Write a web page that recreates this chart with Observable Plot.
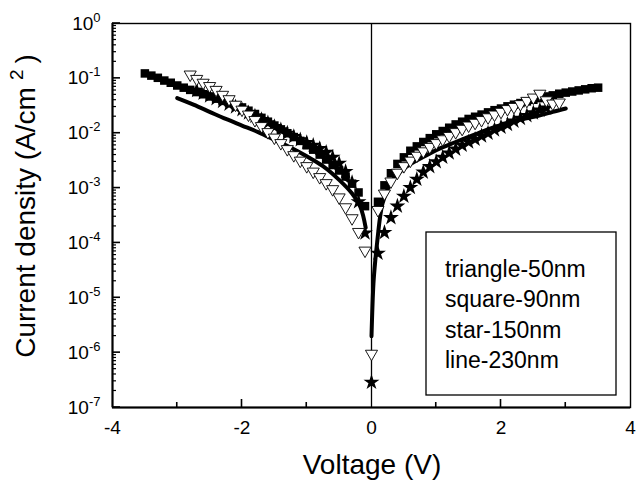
<!DOCTYPE html>
<html>
<head>
<meta charset="utf-8">
<script src="https://cdn.jsdelivr.net/npm/d3@7"></script>
<script src="https://cdn.jsdelivr.net/npm/@observablehq/plot@0.6"></script>
<style>
  html, body { margin: 0; padding: 0; background: #fff; }
  #chart { width: 636px; height: 481px; }
</style>
</head>
<body>
<div id="chart"></div>
<script>
// ---- data (voltage in V, current density as log10 of A/cm^2) ----
const squareV = [-3.5,-3.4,-3.3,-3.2,-3.1,-3.0,-2.9,-2.8,-2.7,-2.6,-2.5,-2.4,-2.3,-2.2,-2.1,-2.0,-1.9,-1.8,-1.7,-1.6,-1.5,-1.4,-1.3,-1.2,-1.1,-1.0,-0.9,-0.8,-0.7,-0.6,-0.5,-0.4,-0.3,-0.2,-0.1,
  0.1,0.2,0.3,0.4,0.5,0.6,0.7,0.8,0.9,1.0,1.1,1.2,1.3,1.4,1.5,1.6,1.7,1.8,1.9,2.0,2.1,2.2,2.3,2.4,2.5,2.6,2.7,2.8,2.9,3.0,3.1,3.2,3.3,3.4,3.5];
const squareLogJ = [-0.91,-0.95,-0.99,-1.04,-1.08,-1.13,-1.17,-1.21,-1.25,-1.29,-1.33,-1.37,-1.41,-1.45,-1.49,-1.53,-1.59,-1.65,-1.72,-1.79,-1.86,-1.93,-2.00,-2.07,-2.14,-2.22,-2.30,-2.39,-2.48,-2.58,-2.68,-2.79,-2.92,-3.08,-3.33,
  -3.25,-2.95,-2.73,-2.56,-2.44,-2.32,-2.24,-2.16,-2.09,-2.02,-1.96,-1.90,-1.84,-1.79,-1.74,-1.70,-1.66,-1.62,-1.58,-1.55,-1.51,-1.48,-1.45,-1.42,-1.39,-1.36,-1.33,-1.31,-1.28,-1.26,-1.24,-1.22,-1.20,-1.18,-1.17];

const triangleV = [-2.8,-2.7,-2.6,-2.5,-2.4,-2.3,-2.2,-2.1,-2.0,-1.9,-1.8,-1.7,-1.6,-1.5,-1.4,-1.3,-1.2,-1.1,-1.0,-0.9,-0.8,-0.7,-0.6,-0.5,-0.4,-0.3,-0.2,-0.1,
  0.0,
  0.1,0.2,0.3,0.4,0.5,0.6,0.7,0.8,0.9,1.0,1.1,1.2,1.3,1.4,1.5,1.6,1.7,1.8,1.9,2.0,2.1,2.2,2.3,2.4,2.5,2.6,2.7,2.8,2.9];
const triangleLogJ = [-0.93,-1.01,-1.08,-1.14,-1.21,-1.30,-1.38,-1.48,-1.57,-1.66,-1.76,-1.87,-1.98,-2.08,-2.18,-2.29,-2.40,-2.50,-2.60,-2.70,-2.80,-2.91,-3.02,-3.17,-3.35,-3.55,-3.80,-4.14,
  -6.02,
  -3.40,-3.10,-2.88,-2.72,-2.60,-2.50,-2.41,-2.33,-2.25,-2.18,-2.11,-2.05,-1.98,-1.92,-1.86,-1.81,-1.76,-1.71,-1.66,-1.61,-1.56,-1.52,-1.47,-1.41,-1.35,-1.28,-1.40,-1.46,-1.44];

const starV = [-2.7,-2.6,-2.5,-2.4,-2.3,-2.2,-2.1,-2.0,-1.9,-1.8,-1.7,-1.6,-1.5,-1.4,-1.3,-1.2,-1.1,-1.0,-0.9,-0.8,-0.7,-0.6,-0.5,-0.4,-0.3,-0.2,-0.1,
  0.0,
  0.1,0.2,0.3,0.4,0.5,0.6,0.7,0.8,0.9,1.0,1.1,1.2,1.3,1.4,1.5,1.6,1.7,1.8,1.9,2.0,2.1,2.2,2.3,2.4,2.5,2.6,2.7];
const starLogJ = [-1.22,-1.27,-1.32,-1.37,-1.42,-1.47,-1.52,-1.57,-1.63,-1.69,-1.75,-1.81,-1.88,-1.94,-2.00,-2.06,-2.12,-2.17,-2.22,-2.28,-2.35,-2.44,-2.55,-2.70,-2.90,-3.25,-3.82,
  -6.54,
  -4.19,-3.81,-3.54,-3.33,-3.15,-2.99,-2.84,-2.71,-2.61,-2.52,-2.44,-2.36,-2.29,-2.22,-2.16,-2.11,-2.05,-2.00,-1.94,-1.89,-1.84,-1.78,-1.73,-1.68,-1.63,-1.58,-1.54];

const lineLeftV = [-3.0,-2.75,-2.5,-2.25,-2.0,-1.75,-1.5,-1.25,-1.0,-0.75,-0.5,-0.3,-0.17,-0.09];
const lineLeftLogJ = [-1.36,-1.48,-1.61,-1.74,-1.86,-1.98,-2.12,-2.26,-2.42,-2.60,-2.85,-3.10,-3.35,-3.72];
const lineRightV = [0.0,0.03,0.06,0.09,0.13,0.17,0.25,0.32,0.53,0.79,1.05,1.3,1.56,1.8,2.07,2.3,2.59,2.8,3.0];
const lineRightLogJ = [-5.70,-4.74,-4.30,-3.96,-3.55,-3.28,-3.02,-2.86,-2.62,-2.44,-2.28,-2.16,-2.04,-1.93,-1.82,-1.75,-1.68,-1.61,-1.55];

const legendLines = ["triangle-50nm", "square-90nm", "star-150nm", "line-230nm"];
const xTickLabels = [-4, -2, 0, 2, 4];
const xMajorInner = [-2, 2];
const xMinorInner = [-3, -1, 1, 3];
const yDecadeExps = [-7, -6, -5, -4, -3, -2, -1, 0];
const yMinorMultipliers = [2, 3, 4, 5, 6, 7, 8, 9];

const xTitle = "Voltage (V)";
const yTitleMain = "Current density (A/cm";
const yTitleSup = "2";

// ---- build tables ----
const toRows = (V, L) => V.map((v, i) => ({V: v, J: Math.pow(10, L[i])}));
const squares = toRows(squareV, squareLogJ);
const triangles = toRows(triangleV, triangleLogJ);
const stars = toRows(starV, starLogJ);
const lineLeft = toRows(lineLeftV, lineLeftLogJ);
const lineRight = toRows(lineRightV, lineRightLogJ);
const yDecades = yDecadeExps.map(e => Math.pow(10, e));
const yMinor = [];
yDecadeExps.slice(0, -1).forEach(e => yMinorMultipliers.forEach(m => yMinor.push(m * Math.pow(10, e))));
const xMin = -4, yMin = 1e-7;

const FONT = "'Liberation Sans', Arial, Helvetica, sans-serif";

const chart = Plot.plot({
  width: 636,
  height: 481,
  marginLeft: 112,
  marginRight: 6,
  marginTop: 23,
  marginBottom: 74,
  style: {fontFamily: FONT, background: "white", color: "black", overflow: "visible"},
  x: {domain: [-4, 4], label: null},
  y: {type: "log", domain: [1e-7, 1], label: null},
  marks: [
    Plot.ruleX([0], {stroke: "black", strokeWidth: 1.3}),
    Plot.line(lineLeft, {x: "V", y: "J", stroke: "black", strokeWidth: 4, curve: "catmull-rom"}),
    Plot.line(lineRight, {x: "V", y: "J", stroke: "black", strokeWidth: 4, curve: "catmull-rom"}),
    Plot.dot(squares, {x: "V", y: "J", symbol: "square", r: 4.8, fill: "black", stroke: "none"}),
    Plot.dot(stars, {x: "V", y: "J", symbol: "star", r: 5, fill: "black", stroke: "none"}),
    Plot.dot(triangles, {x: "V", y: "J", symbol: "triangle", rotate: 180, r: 4.5, fill: "white", stroke: "black", strokeWidth: 0.9}),
    Plot.frame({stroke: "black", strokeWidth: 1.4}),
    Plot.ruleX([xMin], {stroke: "black", strokeWidth: 2}),
    Plot.ruleY([yMin], {stroke: "black", strokeWidth: 2}),
    // tick labels
    Plot.axisX({ticks: xTickLabels, tickSize: 0, tickPadding: 13, fontSize: 19, tickFormat: d => String(d), label: null}),
    Plot.axisY({ticks: yDecades, tickSize: 0, tickPadding: 12, fontSize: 19, tickFormat: d => "10^" + Math.round(Math.log10(d)), label: null})
  ]
});

document.getElementById("chart").appendChild(chart);

// superscript exponents on the y tick labels
d3.select(chart).selectAll('g[aria-label="y-axis tick label"] text').each(function () {
  const t = this.textContent;
  if (!t.startsWith("10^")) return;
  const exp = t.slice(3);
  const sel = d3.select(this);
  sel.text(null);
  sel.append("tspan").text("10");
  sel.append("tspan").attr("dy", "-8").attr("font-size", 13).text(exp);
});

const svg = d3.select(chart);

// inward ticks, positioned with the plot's own scales
try {
  const sx = chart.scale("x"), sy = chart.scale("y");
  const x0 = sx.apply(xMin), y0 = sy.apply(yMin);
  const g = svg.append("g").attr("stroke", "black");
  const addX = (vals, len, w) => vals.forEach(v => {
    const px = sx.apply(v);
    g.append("line").attr("x1", px).attr("x2", px).attr("y1", y0).attr("y2", y0 - len).attr("stroke-width", w);
  });
  const addY = (vals, len, w) => vals.forEach(v => {
    const py = sy.apply(v);
    g.append("line").attr("x1", x0).attr("x2", x0 + len).attr("y1", py).attr("y2", py).attr("stroke-width", w);
  });
  addX(xMajorInner, 8, 1.6);
  addX(xMinorInner, 5, 1.6);
  addY(yDecades, 8, 1.6);
  addY(yMinor, 4, 1.2);
} catch (e) { /* scales unavailable: skip inner ticks */ }

// axis titles
svg.append("text")
  .attr("x", 372).attr("y", 474)
  .attr("text-anchor", "middle")
  .attr("font-family", FONT).attr("font-size", 28).attr("fill", "black")
  .text(xTitle);

const yt = svg.append("text")
  .attr("transform", "translate(35,206) rotate(-90)")
  .attr("text-anchor", "middle")
  .attr("font-family", FONT).attr("font-size", 28).attr("fill", "black");
yt.append("tspan").text(yTitleMain);
yt.append("tspan").attr("dx", 7).attr("dy", -12).attr("font-size", 19).text(yTitleSup);
yt.append("tspan").attr("dx", 6).attr("dy", 12).text(")");

// legend box
svg.append("rect")
  .attr("x", 426).attr("y", 232).attr("width", 190).attr("height", 163)
  .attr("fill", "white").attr("stroke", "black").attr("stroke-width", 1.3);
legendLines.forEach((s, i) => {
  svg.append("text")
    .attr("x", 445).attr("y", 277 + i * 30.3)
    .attr("text-anchor", "start")
    .attr("font-family", FONT).attr("font-size", 23).attr("fill", "black")
    .text(s);
});
</script>
</body>
</html>
